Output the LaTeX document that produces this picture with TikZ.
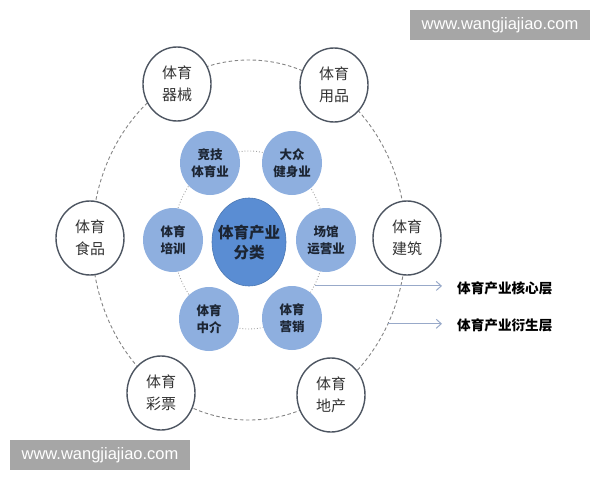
\documentclass[tikz,border=0pt]{standalone}
\usepackage{fontspec}
\usetikzlibrary{arrows.meta,positioning,shapes.geometric}
\newfontfamily\cjk{Noto Sans CJK SC}
\newfontfamily\wmfont{Liberation Sans}
\definecolor{Ring}{HTML}{4D5561}
\definecolor{Dash}{HTML}{858585}
\definecolor{Dots}{HTML}{A3A3A3}
\definecolor{SoftBlue}{HTML}{8EAFDF}
\definecolor{MidBlue}{HTML}{5A8DD3}
\definecolor{Ink}{HTML}{1C2533}
\definecolor{Pointer}{HTML}{98A9C9}
\definecolor{Mark}{HTML}{A6A6A6}
\tikzset{
 outerbubble/.style={ellipse, draw=Ring, line width=1.4pt, fill=white, minimum width=68pt, minimum height=74pt, inner sep=0pt, align=center, text=black!80, font=\cjk\fontsize{15}{22}\selectfont},
 corebubble/.style={ellipse, fill=SoftBlue, minimum width=60pt, minimum height=64pt, inner sep=0pt, align=center, text=Ink, font=\cjk\bfseries\fontsize{12.5}{17}\selectfont},
 hubbubble/.style={corebubble, fill=MidBlue, draw=MidBlue!85!black, line width=0.6pt, minimum width=74pt, minimum height=88pt, inner sep=-6pt, font=\cjk\bfseries\fontsize{15.5}{20}\selectfont},
 ringline/.style={ellipse, draw=Dash, dash pattern=on 3.5pt off 2.5pt, line width=0.9pt},
 coreline/.style={ellipse, draw=Dots, dotted, line width=0.9pt},
 pointer/.style={-{Straight Barb[length=5pt,width=9pt]}, draw=Pointer, line width=1pt},
 layerlabel/.style={anchor=west, inner sep=0pt, font=\cjk\bfseries\fontsize{13.6}{15}\selectfont},
 watermark/.style={fill=Mark, text=white, minimum width=180pt, minimum height=30pt, inner sep=0pt, font=\wmfont\fontsize{16.5}{18}\selectfont}
}
\begin{document}
\begin{tikzpicture}[x=1pt,y=-1pt]
\useasboundingbox (0,0) rectangle (600,480);
\node[ringline, minimum width=314pt, minimum height=360pt] (outerring) at (249,240) {};
\node[coreline, minimum width=152pt, minimum height=178pt] (corering) at (249,240) {};
\node[outerbubble] (equip) at (177,84) {体育\\器械};
\node[outerbubble] (goods) at (334,85) {体育\\用品};
\node[outerbubble] (food) at (90,238) {体育\\食品};
\node[outerbubble] (build) at (407,238) {体育\\建筑};
\node[outerbubble] (lottery) at (161,393) {体育\\彩票};
\node[outerbubble] (estate) at (331,395) {体育\\地产};
\node[corebubble] (compete) at (210,163) {竞技\\体育业};
\node[corebubble] (fitness) at (292,163) {大众\\健身业};
\node[corebubble] (training) at (173,240) {体育\\培训};
\node[corebubble] (venue) at (326,240) {场馆\\运营业};
\node[corebubble] (agency) at (209,319) {体育\\中介};
\node[corebubble] (marketing) at (292,318) {体育\\营销};
\node[hubbubble] (hub) at (249,242) {体育产业\\分类};
\node[layerlabel] (corelbl) at (457,288) {体育产业核心层};
\node[layerlabel] (ringlbl) at (457,325) {体育产业衍生层};
\draw[pointer] (corering.-35) -- ([xshift=-15pt]corelbl.west |- corering.-35);
\draw[pointer] (outerring.-31) -- ([xshift=-15pt]ringlbl.west |- outerring.-31);
\node[watermark] (wmtop) at (500,25) {www.wangjiajiao.com};
\node[watermark] (wmbottom) at (100,455) {www.wangjiajiao.com};
\end{tikzpicture}
\end{document}
